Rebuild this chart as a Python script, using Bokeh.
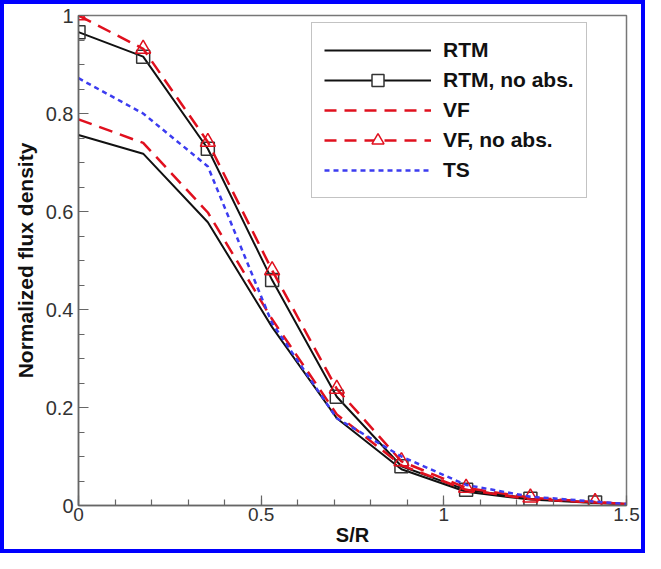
from bokeh.plotting import figure
from bokeh.layouts import column
from bokeh.models import FixedTicker, CustomJSTickFormatter, Legend, LegendItem
from bokeh.embed import file_html
from bokeh.resources import INLINE
import numpy as np

# ---- data ----
s_r = [0.0, 0.177, 0.354, 0.530, 0.707, 0.884, 1.061, 1.237, 1.414, 1.5]
rtm = [0.756, 0.718, 0.578, 0.364, 0.178, 0.074, 0.028, 0.012, 0.005, 0.003]
rtm_noabs = [0.966, 0.916, 0.728, 0.460, 0.222, 0.080, 0.032, 0.014, 0.006, 0.003]
vf = [0.788, 0.740, 0.598, 0.380, 0.186, 0.082, 0.032, 0.013, 0.006, 0.003]
vf_noabs = [1.000, 0.932, 0.742, 0.480, 0.238, 0.090, 0.036, 0.016, 0.007, 0.003]
ts = [0.872, 0.800, 0.692, 0.372, 0.178, 0.100, 0.042, 0.018, 0.008, 0.003]
n_markers = 9  # markers on the first nine sample points

x_ticks = [0, 0.5, 1, 1.5]
y_ticks = [0, 0.2, 0.4, 0.6, 0.8, 1.0]
labels = ["RTM", "RTM, no abs.", "VF", "VF, no abs.", "TS"]

FONT = "Liberation Sans"
BLACK = "#111111"
RED = "#e0101e"
BLUE = "#3c3cf0"

p = figure(width=637, height=545, x_range=(0, 1.5), y_range=(0, 1.0),
           output_backend="svg", toolbar_location=None,
           min_border_left=74, min_border_right=15, min_border_top=11, min_border_bottom=44)
p.background_fill_color = "white"
p.border_fill_color = "white"
p.grid.visible = False
p.outline_line_color = "#777777"
p.outline_line_width = 1.5

fmt = CustomJSTickFormatter(code="return String(Math.round(tick*100)/100);")
p.xaxis.ticker = FixedTicker(ticks=x_ticks, minor_ticks=list(np.round(np.arange(0, 1.51, 0.1), 3)))
p.yaxis.ticker = FixedTicker(ticks=y_ticks, minor_ticks=list(np.round(np.arange(0, 1.01, 0.05), 3)))
for ax in (p.xaxis[0], p.yaxis[0]):
    ax.formatter = fmt
    ax.axis_line_color = "#666666"
    ax.axis_line_width = 1.5
    ax.major_tick_line_color = "#666666"
    ax.minor_tick_line_color = "#666666"
    ax.major_tick_line_width = 1.2
    ax.minor_tick_line_width = 1.2
    ax.major_tick_in = 10
    ax.major_tick_out = 0
    ax.minor_tick_in = 6
    ax.minor_tick_out = 0
    ax.major_label_text_font = FONT
    ax.major_label_text_color = "#333333"
    ax.axis_label_text_font = FONT
    ax.axis_label_text_font_style = "bold"
    ax.axis_label_text_color = "#111111"
p.xaxis.major_label_text_font_size = "19px"
p.yaxis.major_label_text_font_size = "20px"
p.xaxis.axis_label_text_font_size = "20px"
p.yaxis.axis_label_text_font_size = "21px"
p.xaxis.axis_label = "S/R"
p.yaxis.axis_label = "Normalized flux density"
p.xaxis.major_label_standoff = 2
p.xaxis.axis_label_standoff = 0
p.yaxis.major_label_standoff = 5
p.yaxis.axis_label_standoff = 6

xm = s_r[:n_markers]

p.line(s_r, rtm, line_color=BLACK, line_width=2)
p.line(s_r, rtm_noabs, line_color=BLACK, line_width=2)
p.scatter(xm, rtm_noabs[:n_markers], marker="square", size=13, fill_color=None,
          line_color="#333333", line_width=1.5)
p.line(s_r, vf, line_color=RED, line_width=2.5, line_dash="14 8")
p.line(s_r, vf_noabs, line_color=RED, line_width=2.5, line_dash="14 8")
p.scatter(xm, vf_noabs[:n_markers], marker="triangle", size=15, fill_color=None,
          line_color=RED, line_width=1.5)
p.line(s_r, ts, line_color=BLUE, line_width=2.5, line_dash="5 4")

# legend proxies (a single NaN point, so they only appear inside the legend)
nan = [float("nan")]
l1 = p.line(nan, nan, line_color=BLACK, line_width=2)
l2 = p.line(nan, nan, line_color=BLACK, line_width=2)
m2 = p.scatter(nan, nan, marker="square", size=10, fill_color="white", line_color="#333333", line_width=1.5)
l3 = p.line(nan, nan, line_color=RED, line_width=2.5, line_dash="12 8")
l4 = p.line(nan, nan, line_color=RED, line_width=2.5, line_dash="12 8")
m4 = p.scatter(nan, nan, marker="triangle", size=12, fill_color="white", line_color=RED, line_width=1.5)
l5 = p.line(nan, nan, line_color=BLUE, line_width=2.5, line_dash="5 4")

legend = Legend(items=[
    LegendItem(label=labels[0], renderers=[l1]),
    LegendItem(label=labels[1], renderers=[l2, m2]),
    LegendItem(label=labels[2], renderers=[l3]),
    LegendItem(label=labels[3], renderers=[l4, m4]),
    LegendItem(label=labels[4], renderers=[l5]),
], location=(233, 307))
legend.glyph_width = 107
legend.glyph_height = 30
legend.label_height = 30
legend.spacing = 0
legend.padding = 12
legend.margin = 0
legend.label_standoff = 12
legend.label_text_font = FONT
legend.label_text_font_style = "bold"
legend.label_text_font_size = "21px"
legend.label_text_color = "#111111"
legend.border_line_color = "#888888"
legend.border_line_width = 1.5
legend.background_fill_alpha = 1.0
p.add_layout(legend, "center")

# blue picture frame around the whole chart
page = column(p, styles={"border": "4px solid #0000ff"})

open("out.html", "w").write(file_html(page, INLINE))
